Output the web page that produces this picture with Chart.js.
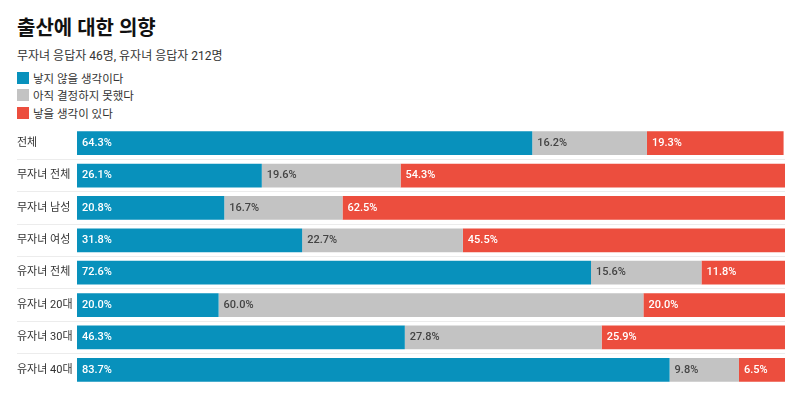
<!DOCTYPE html>
<html>
<head>
<meta charset="utf-8">
<script src="https://cdn.jsdelivr.net/npm/chart.js@4"></script>
<style>
  body { margin: 0; background: #fff; font-family: Roboto, "Noto Sans CJK KR", sans-serif; color: #222; }
  #wrap { position: relative; width: 800px; height: 397px; }
  h1 { position: absolute; left: 17px; top: 12px; margin: 0; font-size: 20px; font-weight: 700; color: #111; }
  .sub { position: absolute; left: 17px; top: 46px; font-size: 12px; color: #333; }
  #legend { position: absolute; left: 17px; top: 69px; font-size: 11.5px; color: #333; }
  #legend div { height: 17.5px; display: flex; align-items: center; }
  #legend span.box { display: inline-block; width: 12px; height: 12px; margin-right: 4px; }
  #box { position: absolute; left: 0; top: 122px; width: 800px; height: 275px; }
</style>
</head>
<body>
<div id="wrap">
  <h1>출산에 대한 의향</h1>
  <div class="sub">무자녀 응답자 46명, 유자녀 응답자 212명</div>
  <div id="legend"></div>
  <div id="box"><canvas id="chart"></canvas></div>
</div>
<script>
var categories = ['전체', '무자녀 전체', '무자녀 남성', '무자녀 여성', '유자녀 전체', '유자녀 20대', '유자녀 30대', '유자녀 40대'];
var seriesNames = ['낳지 않을 생각이다', '아직 결정하지 못했다', '낳을 생각이 있다'];
var notPlanning = [64.3, 26.1, 20.8, 31.8, 72.6, 20.0, 46.3, 83.7];
var undecided = [16.2, 19.6, 16.7, 22.7, 15.6, 60.0, 27.8, 9.8];
var planning = [19.3, 54.3, 62.5, 45.5, 11.8, 20.0, 25.9, 6.5];
var colors = ['#0891bc', '#c3c3c3', '#ec4e3e'];
var labelColors = ['#ffffff', '#444444', '#ffffff'];

var legend = document.getElementById('legend');
seriesNames.forEach(function (name, i) {
  var row = document.createElement('div');
  row.innerHTML = '<span class="box" style="background:' + colors[i] + '"></span>' + name;
  legend.appendChild(row);
});

var valueLabels = {
  id: 'valueLabels',
  afterDatasetsDraw: function (chart) {
    var ctx = chart.ctx;
    ctx.save();
    ctx.font = '500 11px Roboto, "Noto Sans CJK KR", sans-serif';
    ctx.textBaseline = 'middle';
    ctx.textAlign = 'left';
    chart.data.datasets.forEach(function (ds, i) {
      var meta = chart.getDatasetMeta(i);
      meta.data.forEach(function (bar, j) {
        ctx.fillStyle = labelColors[i];
        ctx.fillText(ds.data[j].toFixed(1) + '%', Math.min(bar.base, bar.x) + 5, bar.y);
      });
    });
    ctx.restore();
  }
};

var ctx = document.getElementById('chart').getContext('2d');
var chart = new Chart(ctx, {
  type: 'bar',
  data: {
    labels: categories,
    datasets: [
      { label: seriesNames[0], data: notPlanning, backgroundColor: colors[0] },
      { label: seriesNames[1], data: undecided, backgroundColor: colors[1] },
      { label: seriesNames[2], data: planning, backgroundColor: colors[2] }
    ]
  },
  options: {
    indexAxis: 'y',
    responsive: true,
    maintainAspectRatio: false,
    animation: false,
    layout: { padding: { left: 17, right: 15, top: 5, bottom: 11 } },
    datasets: { bar: { barPercentage: 0.73, categoryPercentage: 1, borderWidth: 0 } },
    plugins: { legend: { display: false }, tooltip: { enabled: false } },
    scales: {
      x: { stacked: true, min: 0, max: 100, display: false },
      y: {
        stacked: true,
        border: { display: false },
        afterFit: function (scale) {
          scale.width = 60;
          scale.paddingTop = 0;
          scale.paddingBottom = 0;
        },
        grid: {
          offset: true,
          tickLength: 60,
          color: function (c) { return c.index > 0 ? '#ececec' : 'transparent'; }
        },
        ticks: {
          crossAlign: 'far',
          color: '#333',
          font: { size: 11, family: 'Roboto, "Noto Sans CJK KR", sans-serif' }
        }
      }
    }
  },
  plugins: [valueLabels]
});
</script>
</body>
</html>
